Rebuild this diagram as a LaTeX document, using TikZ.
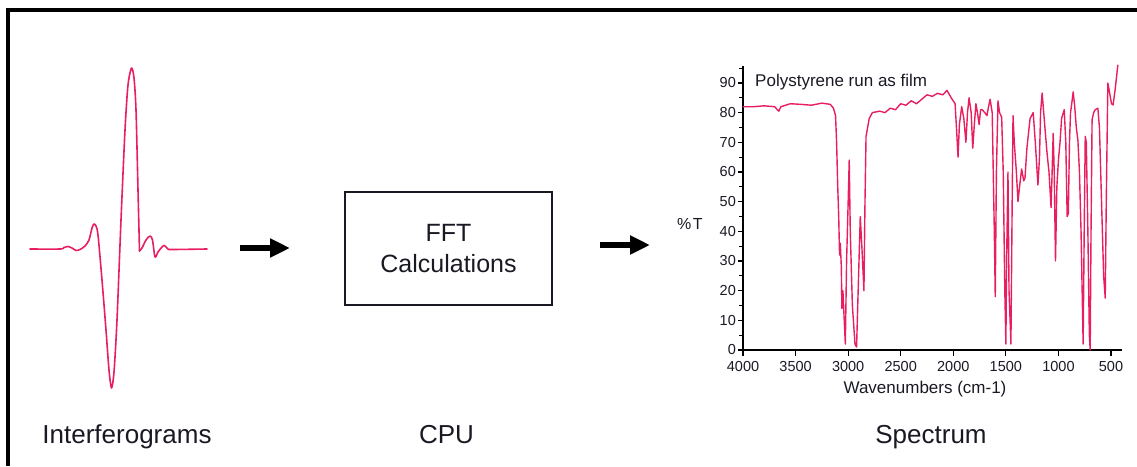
\documentclass[tikz,border=0pt]{standalone}
\usepackage{fontspec}
\setmainfont{Liberation Sans}
\usetikzlibrary{arrows.meta}
\definecolor{trace}{RGB}{232,30,95}
\definecolor{ink}{RGB}{25,25,35}
\begin{document}
\begin{tikzpicture}[x=1pt,y=-1pt,
  trace/.style={draw=trace, line width=1.6pt, line join=round, line cap=round},
  bigarrow/.style={line width=6pt, -{Triangle[length=20pt,width=18pt]}},
  caption/.style={font=\fontsize{26}{30}\selectfont, text=ink, anchor=base, inner sep=0pt},
  ticklab/.style={font=\fontsize{14.5}{16}\selectfont, text=ink, inner sep=1pt},
  axis/.style={draw=black, line width=1.5pt},
  tick/.style={draw=black, line width=1.2pt},
]
\useasboundingbox (0,0) rectangle (1137,466);

% frame: top and left rules
\fill (6,8) rectangle (1137,12);
\fill (6,8) rectangle (10,466);

% interferogram burst
\draw[trace] plot[smooth, tension=0.45] coordinates {
  (30,249) (60,249) (64,247.5) (68,246.5) (72,248) (76,250.5) (80,249.5)
  (85,246) (89,240) (92,228) (94,224) (96,226) (98,235) (102,280) (106,330)
  (109,370) (111.5,388) (114,372) (117,320) (121,220) (125,130) (128,85)
  (131.5,68) (134,78) (136,110) (138,190) (139.5,251)};
\draw[trace] plot[smooth, tension=0.45] coordinates {
  (139.5,251) (142,248) (146,240) (150,236) (152.5,240) (155,257) (158,252)
  (162,247) (164.5,245.5) (168,249) (172,249.5) (207,249)};

% processing block
\node[draw=ink, line width=1.2pt, minimum width=207pt, minimum height=113pt,
      inner sep=0pt, align=center, text=ink,
      font=\fontsize{25}{31.5}\selectfont] (fft) at (448.5,248.5) {FFT\\Calculations};

% flow arrows
\coordinate (a1s) at (240,248);
\coordinate (a1e) at (290,248);
\coordinate (a2s) at (600,245);
\coordinate (a2e) at (650,245);
\draw[bigarrow] (a1s) -- (a1e);
\draw[bigarrow] (a2s) -- (a2e);

% captions
\node[caption] (capI) at (127,443) {Interferograms};
\node[caption] (capC) at (446.5,443) {CPU};
\node[caption] (capS) at (931,443) {Spectrum};

% IR spectrum: x in wavenumbers, y in %T
\begin{scope}[shift={(1163.56,350)}, x=-0.10514pt, y=2.967pt]
  \draw[axis] (4000,95.7) -- (4000,0) -- (395,0);
  \foreach \t in {5,15,...,95} \draw[tick] (4000,\t) -- ++(-4pt,0);
  \foreach \t in {0,10,...,90} {
    \draw[tick] (4000,\t) -- ++(-5.5pt,0);
    \node[ticklab, anchor=east] at ([xshift=-6pt]4000,\t) {\t};
  }
  \foreach \w in {4000,3500,...,500} {
    \draw[tick] (\w,0) -- ++(0,-5.5pt);
    \node[ticklab, anchor=north] at ([yshift=-10pt]\w,0) {\w};
  }
  \draw[trace, line width=1.4pt] plot coordinates {
    (4000,82) (3900,82) (3800,82.3) (3700,82) (3660,80.5) (3640,82) (3550,83)
    (3450,82.8) (3350,82.5) (3250,83.2) (3170,82.8) (3140,81.5) (3120,79)
    (3110,70) (3100,56) (3090,45) (3082,32) (3075,36) (3065,28) (3060,14)
    (3050,20) (3040,12) (3027,2) (3015,30) (3000,50) (2990,64) (2980,40)
    (2960,15) (2935,2) (2920,1) (2905,20) (2885,45) (2870,35) (2850,20)
    (2840,50) (2830,72) (2800,78) (2770,80) (2700,80.5) (2650,80) (2600,81.5)
    (2550,81) (2500,83) (2450,82.5) (2400,84) (2350,83) (2300,84.5) (2250,86)
    (2200,85.5) (2150,86.5) (2100,86) (2060,87.5) (2020,85) (1983,83)
    (1970,75) (1955,65) (1942,76) (1920,82) (1900,78) (1880,70) (1865,80)
    (1850,85) (1830,80) (1815,68) (1800,76) (1785,83) (1770,80) (1755,76)
    (1740,81) (1727,81) (1700,80) (1680,79) (1665,82) (1650,84.5) (1630,80)
    (1610,40) (1601,18) (1590,60) (1575,84) (1560,80) (1540,78.5) (1525,60)
    (1510,20) (1500,2) (1493,30) (1480,60) (1470,20) (1452,2) (1440,50)
    (1432,79) (1420,70) (1400,60) (1385,50) (1370,55) (1350,61) (1330,57)
    (1318,58) (1300,68) (1270,78) (1240,80) (1220,70) (1195,55.6) (1180,65)
    (1170,80) (1155,86.6) (1140,80) (1110,67) (1090,60) (1070,48) (1060,60)
    (1050,73) (1040,60) (1028,30) (1015,55) (1000,64) (985,70) (970,78)
    (945,81) (930,70) (917,45) (906,46) (895,70) (885,80) (870,84) (860,87)
    (845,82) (830,75) (815,70.7) (800,60) (785,40) (765,2) (755,40) (745,72)
    (735,70) (720,40) (706,5) (698,0) (690,40) (680,77.6) (665,80) (650,81)
    (625,81.5) (610,75) (590,50) (570,25) (555,17.5) (545,50) (530,90)
    (510,86) (495,83) (480,82.6) (460,88) (435,96)};
\end{scope}

% spectrum annotations
\node[anchor=base west, inner sep=0pt, text=ink, font=\fontsize{17}{20}\selectfont]
  (title) at (755,86) {Polystyrene run as film};
\node[anchor=base west, inner sep=0pt, text=ink, font=\fontsize{16}{18}\selectfont]
  (ylab) at (677,229) {\%\kern1.5pt T};
\node[anchor=base, inner sep=0pt, text=ink, font=\fontsize{17}{20}\selectfont]
  (xlab) at (925,393) {Wavenumbers (cm-1)};
\end{tikzpicture}
\end{document}
